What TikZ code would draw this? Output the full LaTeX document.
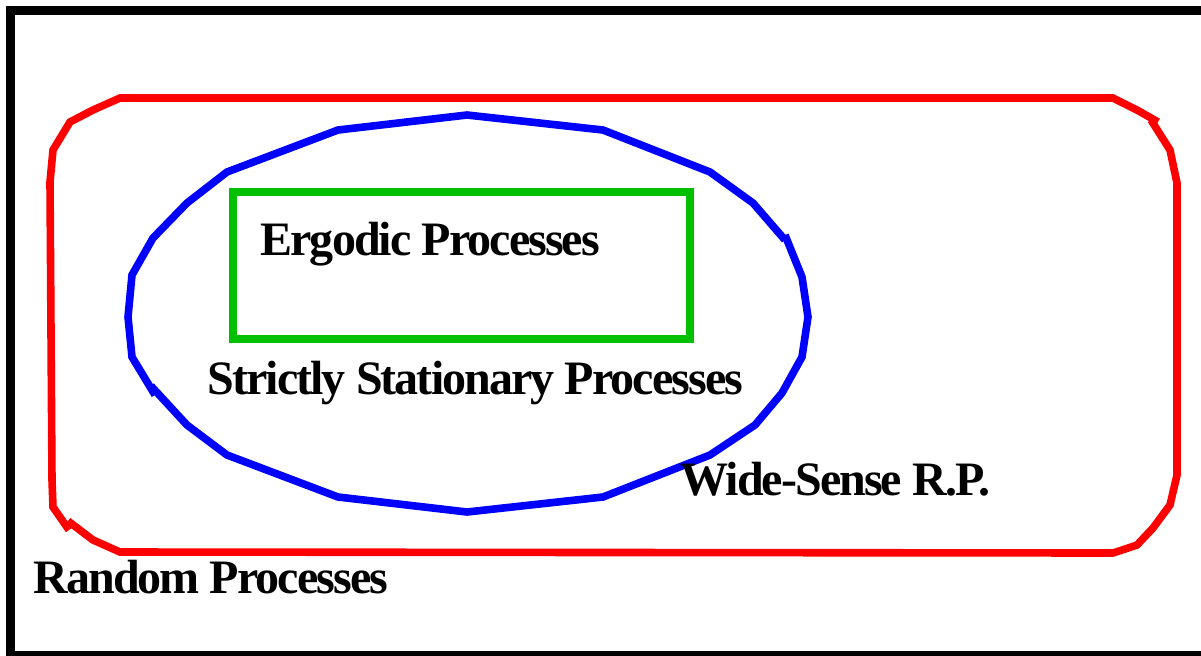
\documentclass[tikz,border=0pt]{standalone}
\usepackage{fontspec}
\setmainfont{Liberation Serif}
\newfontfamily\setfont{Liberation Serif}[LetterSpace=-4]
\usetikzlibrary{positioning}
\definecolor{rpred}{RGB}{255,0,0}
\definecolor{ssblue}{RGB}{0,0,255}
\definecolor{erggreen}{RGB}{0,192,0}
\tikzset{
  frameline/.style={line width=4.5pt, draw=black},
  rpline/.style={line width=3.8pt, draw=rpred},
  ssline/.style={line width=3.8pt, draw=ssblue},
  ergline/.style={line width=4.2pt, draw=erggreen},
  setname/.style={anchor=base west, inner sep=0pt,
    font=\setfont\bfseries\fontsize{24}{29}\selectfont}
}

\begin{document}
\begin{tikzpicture}[x=0.5pt,y=-0.5pt]
          \useasboundingbox (0,0) rectangle (1201,655);
          \clip (0,0) rectangle (1201,655);

          \draw[frameline] (10.5,10) rectangle (1215,655);

          \draw[rpline] (1151,120) -- (1170,150) -- (1177,183) -- (1177,475)
            -- (1170,505) -- (1153,528) -- (1137,545) -- (1113,553)
            -- (120,552) -- (93,540) -- (68,521);
          \draw[rpline] (69,530) -- (53,507) -- (52,480) -- (50,182)
            -- (53,150) -- (70,122) -- (93,110) -- (120,98)
            -- (1113,98) -- (1137,110) -- (1158,122);

          \draw[ssline] (151,386) -- (187,425) -- (227,455) -- (338,497)
            -- (467,512) -- (603,497) -- (710,455) -- (755,425) -- (782,393)
            -- (802,357) -- (808,317) -- (802,277) -- (785,235);
          \draw[ssline] (785,240) -- (753,203) -- (710,172) -- (603,130)
            -- (467,115) -- (338,130) -- (227,172) -- (187,203) -- (153,238)
            -- (132,275) -- (128,317) -- (132,357) -- (155,395);

          \draw[ergline] (233,192) rectangle (690,339);

          \node[setname] (ergodic) at (260,255) {Ergodic Processes};
          \node[setname] (strict) at (207,394) {Strictly Stationary Processes};
          \node[setname] (wss) at (680,495) {Wide-Sense R.P.};
          \node[setname] (random) at (33,593) {Random Processes};
\end{tikzpicture}
\end{document}
